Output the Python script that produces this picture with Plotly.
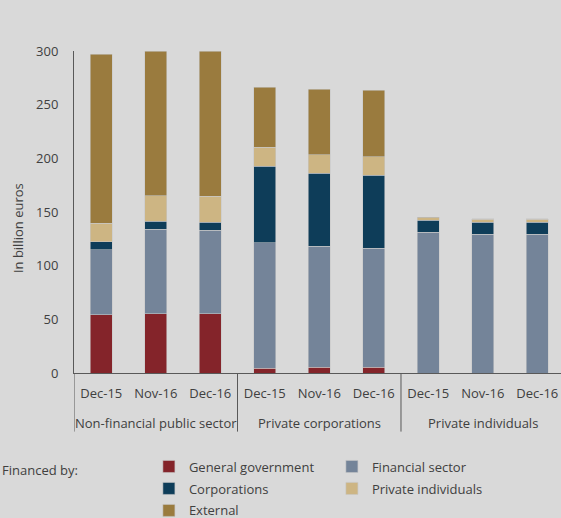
import plotly.graph_objects as go

group_names = ["Non-financial public sector", "Private corporations", "Private individuals"]
dates = ["Dec-15", "Nov-16", "Dec-16"] * 3

general_government = [54.2, 55.4, 55.2, 4.6, 5.2, 5.2, 0, 0, 0]
financial_sector = [60.8, 78.5, 77.8, 116.9, 112.9, 111.3, 131.4, 129.5, 129.3]
corporations = [7.4, 7.7, 7.7, 71.3, 68.2, 67.9, 11.2, 11.2, 11.4]
private_individuals = [17.4, 23.9, 24.2, 17.9, 17.4, 17.4, 2.1, 2.8, 2.8]
external = [157.4, 134.8, 135.4, 55.6, 60.7, 62.0, 0.5, 0.5, 0.5]

series = [
    ("General government", general_government, "#84242A", "legend"),
    ("Financial sector", financial_sector, "#748499", "legend"),
    ("Corporations", corporations, "#0E3D59", "legend2"),
    ("Private individuals", private_individuals, "#CDB583", "legend2"),
    ("External", external, "#9A7B3E", "legend3"),
]

FONT = "Open Sans"
TXT = "#404040"
LINE = "#595959"

xs = list(range(len(dates)))
per_group = len(dates) // len(group_names)

fig = go.Figure()
for name, vals, col, lg in series:
    fig.add_trace(go.Bar(
        x=xs, y=vals, name=name, width=0.41, legend=lg,
        marker=dict(color=col, line=dict(color="rgba(200,200,200,0.7)", width=0.8)),
    ))

annotations = [
    dict(text="In billion euros", textangle=-90, xref="paper", yref="paper",
         x=-0.115, y=0.45, xanchor="center", yanchor="middle", showarrow=False,
         font=dict(family=FONT, size=13, color=TXT)),
    dict(text="Financed by:", xref="paper", yref="paper",
         x=-0.152, y=-0.30, xanchor="left", yanchor="middle", showarrow=False,
         font=dict(family=FONT, size=13, color=TXT)),
]
shapes = []
for gi, g in enumerate(group_names):
    start = gi * per_group
    annotations.append(dict(
        text=g, xref="x", yref="paper", x=start + (per_group - 1) / 2, y=-0.154,
        xanchor="center", yanchor="middle", showarrow=False,
        font=dict(family=FONT, size=13, color=TXT)))
    shapes.append(dict(
        type="line", xref="x", yref="paper", x0=start - 0.5, x1=start - 0.5,
        y0=0, y1=-0.182, line=dict(color=LINE, width=1)))

leg_common = dict(orientation="h", xanchor="left", yanchor="middle",
                  entrywidth=138, entrywidthmode="pixels",
                  font=dict(family=FONT, size=13, color=TXT),
                  bgcolor="rgba(0,0,0,0)", traceorder="normal")
lx = 0.1538

fig.update_layout(
    barmode="stack",
    width=561, height=518,
    margin=dict(l=74, r=0, t=51, b=145, autoexpand=False),
    paper_bgcolor="#D9D9D9", plot_bgcolor="#D9D9D9",
    font=dict(family=FONT, size=13, color=TXT),
    showlegend=True,
    legend=dict(x=lx, y=(373.3 - 467) / 322.6, **leg_common),
    legend2=dict(x=lx, y=(373.3 - 489) / 322.6, **leg_common),
    legend3=dict(x=lx, y=(373.3 - 511) / 322.6, **leg_common),
    xaxis=dict(
        range=[-0.5, 8.436], automargin=False,
        tickmode="array", tickvals=xs, ticktext=dates,
        showline=True, linecolor=LINE, linewidth=1,
        showgrid=False, zeroline=False,
        ticks="outside", ticklen=8, tickcolor="rgba(0,0,0,0)",
        tickfont=dict(family=FONT, size=13, color=TXT),
    ),
    yaxis=dict(
        range=[0, 300.3], tickvals=[0, 50, 100, 150, 200, 250, 300], automargin=False,
        showline=True, linecolor=LINE, linewidth=1,
        showgrid=False, zeroline=False,
        ticks="outside", ticklen=12, tickcolor="rgba(0,0,0,0)",
        tickfont=dict(family=FONT, size=13, color=TXT),
    ),
    annotations=annotations,
    shapes=shapes,
)

fig.write_html("out.html")
